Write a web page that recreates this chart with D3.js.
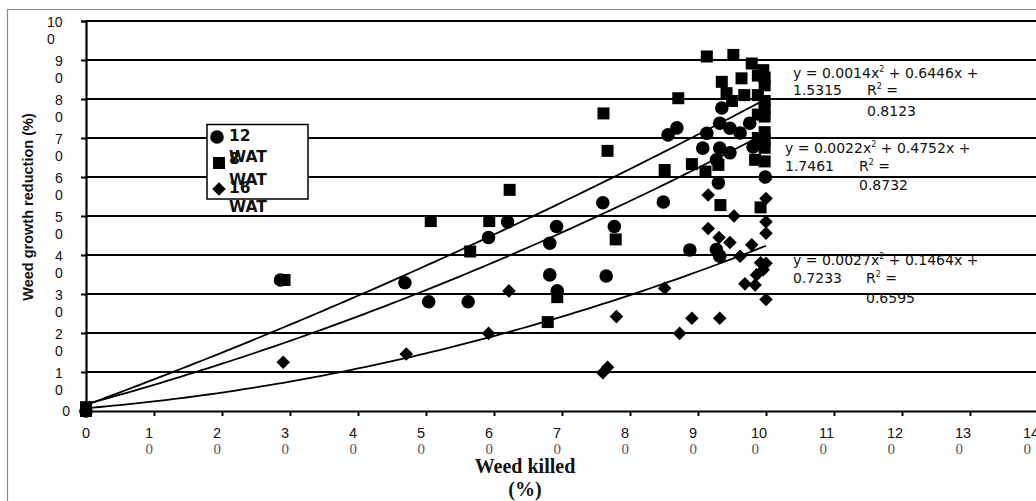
<!DOCTYPE html>
<html>
<head>
<meta charset="utf-8">
<script src="https://cdn.jsdelivr.net/npm/d3@7"></script>
<style>
html,body{margin:0;padding:0;background:#fff;overflow:hidden;}
svg{display:block;}
</style>
</head>
<body>
<svg id="chart" width="1036" height="501"></svg>
<script>
// ---------- data ----------
const seriesNames = ["12 WAT", "8 WAT", "16 WAT"];

// 8 WAT (squares)
const wat8X = [0,0,29.2,50.7,56.5,59.3,62.3,67.9,69.3,76.1,76.7,77.9,85.1,87.1,89.1,91.1,93.0,93.3,91.3,95.2,97.9,99.6,99.8,99.8,99.8,99.8,99.8,99.8,99.8,99.8,99.8,98.8,98.8,98.8,98.8,98.4,93.5,94.2,96.4,95.0,96.8,99.2];
const wat8Y = [0,1,33.6,48.7,40.9,48.7,56.7,22.8,29.2,76.3,66.7,44.0,61.8,80.2,63.3,61.4,63.1,52.8,90.9,91.3,89.1,87.4,83.5,79.5,75.5,71.5,67.5,64.0,85.5,77.5,69.5,86.0,81.0,76.0,70.0,64.4,84.4,81.5,85.3,79.5,81.0,52.2];

// 12 WAT (circles)
const wat12X = [0,28.6,46.9,50.4,56.2,59.2,62.0,68.2,69.2,68.2,69.3,76.0,77.7,76.5,84.9,85.6,86.9,88.8,91.3,90.7,92.7,93.2,93.0,93.5,93.2,94.7,94.7,96.2,97.6,98.1,99.9,92.7,93.2];
const wat12Y = [0,33.6,32.9,28.0,28.0,44.5,48.5,43.0,47.3,34.9,30.8,53.4,47.3,34.6,53.6,70.8,72.6,41.3,71.2,67.4,64.4,67.4,58.5,77.7,73.8,72.5,66.2,71.3,73.8,67.7,60.0,41.4,39.7];

// 16 WAT (diamonds)
const wat16X = [0,29.0,47.1,59.2,62.2,76.0,76.7,78.0,85.1,87.3,89.1,93.2,91.5,95.3,91.5,93.1,94.7,100,100,100,97.9,96.2,99.2,96.9,98.4,98.6,99.6,100,100];
const wat16Y = [0,12.5,14.6,19.9,30.8,9.8,11.2,24.2,31.5,19.9,23.8,23.8,55.4,50.0,46.8,44.5,43.2,54.5,48.5,45.6,42.6,39.7,38.0,32.6,32.3,34.9,36.2,37.9,28.6];

// trendline coefficients [a, b, c] for y = a x^2 + b x + c
const trend8 = [0.0014, 0.6446, 1.5315];
const trend12 = [0.0022, 0.4752, 1.7461];
const trend16 = [0.0027, 0.1464, 0.7233];
const trendLabels = [
  ["y = 0.0014x", " + 0.6446x +", "1.5315", "0.8123"],
  ["y = 0.0022x", " + 0.4752x +", "1.7461", "0.8732"],
  ["y = 0.0027x", " + 0.1464x +", "0.7233", "0.6595"]
];

const xTicks = [0,10,20,30,40,50,60,70,80,90,100,110,120,130,140];
const yTicks = [0,10,20,30,40,50,60,70,80,90,100];
const xTitle = ["Weed killed", "(%)"];
const yTitle = "Weed growth reduction (%)";

// ---------- layout ----------
const svg = d3.select("#chart");
const x = d3.scaleLinear().domain([0,140]).range([86, 1038]);
const y = d3.scaleLinear().domain([0,100]).range([411, 21]);

// outer chart border
svg.append("path").attr("d","M7.5,501 V9.5 H1036").attr("fill","none").attr("stroke","#8a8a8a").attr("stroke-width",1.2);

// gridlines
svg.append("g").selectAll("line").data(yTicks.filter(d=>d>0)).join("line")
  .attr("x1", x(0)).attr("x2", 1040)
  .attr("y1", d=>y(d)).attr("y2", d=>y(d))
  .attr("stroke","#000").attr("stroke-width",2);

// axes
const yAxis = svg.append("g").attr("transform",`translate(${x(0)},0)`)
  .call(d3.axisLeft(y).tickValues(yTicks).tickSize(5).tickFormat(""));
const xAxis = svg.append("g").attr("transform",`translate(0,${y(0)})`)
  .call(d3.axisBottom(x).tickValues(xTicks).tickSize(5).tickFormat(""));
[yAxis,xAxis].forEach(g=>{
  g.selectAll("path.domain").attr("stroke","#000").attr("stroke-width",2.2);
  g.selectAll(".tick line").attr("stroke","#000").attr("stroke-width",2);
});

// y tick labels (wrapped, two lines)
const yl = svg.append("g").attr("font-family","'Liberation Sans', Arial, sans-serif").attr("font-size",14).attr("fill","#111");
yTicks.forEach(v=>{
  const s = String(v);
  if (s.length === 1) {
    yl.append("text").attr("x", x(0)-16).attr("y", y(v)+5).attr("text-anchor","end").text(s);
  } else {
    const first = s.slice(0,-1), last = s.slice(-1);
    const left = x(0) - 31 - (first.length-1)*8;
    yl.append("text").attr("x", left).attr("y", y(v)+6).text(first);
    yl.append("text").attr("x", left).attr("y", y(v)+22.5).text(last);
  }
});

// x tick labels (wrapped: sans first line, serif grey second line)
const xl = svg.append("g");
xTicks.forEach(v=>{
  const s = String(v);
  if (s.length === 1) {
    xl.append("text").attr("x", x(v)).attr("y", y(0)+27).attr("text-anchor","middle")
      .attr("font-family","'Liberation Sans', Arial, sans-serif").attr("font-size",14.5).attr("fill","#111").text(s);
  } else {
    const first = s.slice(0,-1), last = s.slice(-1);
    const left = x(v) - 9 - (first.length-1)*6;
    xl.append("text").attr("x", left).attr("y", y(0)+27)
      .attr("font-family","'Liberation Sans', Arial, sans-serif").attr("font-size",14.5).attr("fill","#111").text(first);
    xl.append("text").attr("x", left+0.5).attr("y", y(0)+43)
      .attr("font-family","'Liberation Serif', 'Times New Roman', serif").attr("font-size",15).attr("fill","#555").text(last);
  }
});

// axis titles
svg.append("text").attr("transform","translate(33,207) rotate(-90)").attr("text-anchor","middle")
  .attr("font-family","'Liberation Sans', Arial, sans-serif").attr("font-weight","bold").attr("font-size",14.5)
  .attr("fill","#111").text(yTitle);
svg.append("text").attr("x",525).attr("y",473).attr("text-anchor","middle")
  .attr("font-family","'Liberation Serif', 'Times New Roman', serif").attr("font-weight","bold").attr("font-size",20)
  .attr("fill","#111").text(xTitle[0]);
svg.append("text").attr("x",525).attr("y",496).attr("text-anchor","middle")
  .attr("font-family","'Liberation Serif', 'Times New Roman', serif").attr("font-weight","bold").attr("font-size",20)
  .attr("fill","#111").text(xTitle[1]);

// markers
const sq = d3.symbol().type(d3.symbolSquare).size(144);
const dm = d3.symbol().type(d3.symbolSquare).size(92);
const pts = (xs,ys)=>xs.map((v,i)=>[v,ys[i]]);

svg.append("g").selectAll("path").data(pts(wat8X,wat8Y)).join("path")
  .attr("d", sq).attr("transform", d=>`translate(${x(d[0])},${y(d[1])})`).attr("fill","#000");
svg.append("g").selectAll("circle").data(pts(wat12X,wat12Y)).join("circle")
  .attr("cx", d=>x(d[0])).attr("cy", d=>y(d[1])).attr("r",6.8).attr("fill","#000");
svg.append("g").selectAll("path").data(pts(wat16X,wat16Y)).join("path")
  .attr("d", dm).attr("transform", d=>`translate(${x(d[0])},${y(d[1])}) rotate(45)`).attr("fill","#000");

// trendlines
const xs = d3.range(0, 100.01, 1);
const line = d3.line().x(d=>x(d[0])).y(d=>y(d[1]));
[trend8, trend12, trend16].forEach(c=>{
  svg.append("path").datum(xs.map(v=>[v, c[0]*v*v + c[1]*v + c[2]]))
    .attr("d", line).attr("fill","none").attr("stroke","#000").attr("stroke-width",1.8);
});

// trendline equation labels
const eqPos = [[793,78,95,867,116],[785,153,171,859,190],[793,265,283,866,303]];
const eqg = svg.append("g").attr("font-family","'DejaVu Sans', Verdana, sans-serif").attr("font-size",14).attr("fill","#111");
trendLabels.forEach((t,i)=>{
  const p = eqPos[i];
  const tx = eqg.append("text").attr("x",p[0]).attr("y",p[1]);
  tx.append("tspan").text(t[0]);
  tx.append("tspan").attr("dy",-6).attr("font-size",8).text("2");
  tx.append("tspan").attr("dy",6).text(t[1]);
  eqg.append("text").attr("x",p[0]).attr("y",p[2]).text(t[2]);
  const r = eqg.append("text").attr("x",p[3]).attr("y",p[2]);
  r.append("tspan").text("R");
  r.append("tspan").attr("dy",-6).attr("font-size",8).text("2");
  r.append("tspan").attr("dy",6).text(" =");
  eqg.append("text").attr("x",p[3]).attr("y",p[4]).text(t[3]);
});

// legend
const lg = svg.append("g");
lg.append("rect").attr("x",207).attr("y",124.5).attr("width",101).attr("height",74.5)
  .attr("fill","#fff").attr("stroke","#000").attr("stroke-width",1.5);
lg.append("circle").attr("cx",217).attr("cy",137).attr("r",6.8).attr("fill","#000");
lg.append("path").attr("d",sq).attr("transform","translate(219,163)").attr("fill","#000");
lg.append("path").attr("d",dm).attr("transform","translate(219,189) rotate(45)").attr("fill","#000");
const lt = lg.append("g").attr("font-family","'DejaVu Sans', Verdana, sans-serif").attr("font-weight","bold").attr("font-size",15.5).attr("fill","#111");
const legendLines = seriesNames.map(s=>s.split(" "));
const legendBase = [[141,162],[164,185],[193,212]];
legendLines.forEach((parts,i)=>{
  lt.append("text").attr("x",229).attr("y",legendBase[i][0]).text(parts[0]);
  lt.append("text").attr("x",229).attr("y",legendBase[i][1]).text(parts[1]);
});
</script>
</body>
</html>
